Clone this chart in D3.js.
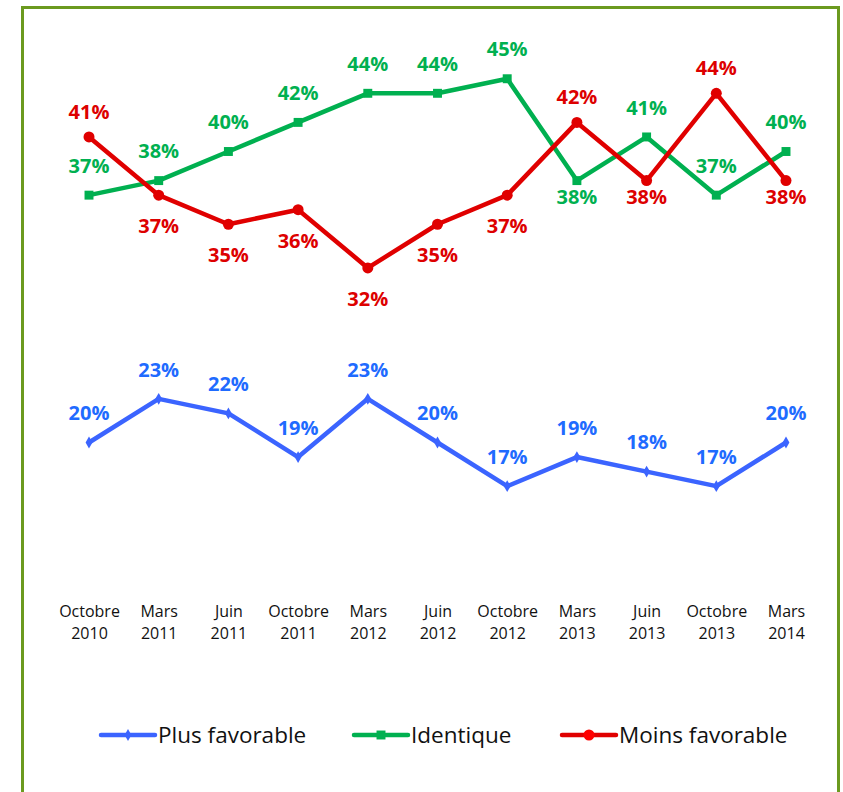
<!DOCTYPE html>
<html>
<head>
<meta charset="utf-8">
<script src="https://cdn.jsdelivr.net/npm/d3@7"></script>
<style>
  body { margin: 0; background: #fff; }
  svg { display: block; }
</style>
</head>
<body>
<div id="chart"></div>
<script>
const width = 843;
const height = 792;

// data
const periods = [
    ["Octobre", "2010"], ["Mars", "2011"], ["Juin", "2011"], ["Octobre", "2011"],
    ["Mars", "2012"], ["Juin", "2012"], ["Octobre", "2012"], ["Mars", "2013"],
    ["Juin", "2013"], ["Octobre", "2013"], ["Mars", "2014"]
];
const plusFavorable = [20, 23, 22, 19, 23, 20, 17, 19, 18, 17, 20];
const identique = [37, 38, 40, 42, 44, 44, 45, 38, 41, 37, 40];
const moinsFavorable = [41, 37, 35, 36, 32, 35, 37, 42, 38, 44, 38];

// where each data label sits: t = above, u = a bit less above, b = below, n = just below
const plusLabelPos = ["t", "t", "t", "t", "t", "t", "t", "t", "t", "t", "t"];
const identiqueLabelPos = ["t", "t", "t", "t", "t", "t", "t", "n", "t", "t", "t"];
const moinsLabelPos = ["u", "b", "b", "b", "b", "b", "b", "u", "n", "u", "n"];

const labelOffset = { t: -29.5, u: -25.5, b: 31, n: 16 };

const series = [
    { name: "Plus favorable", values: plusFavorable, pos: plusLabelPos, line: "#3b64ff", text: "#1f6bff", marker: "diamond" },
    { name: "Identique", values: identique, pos: identiqueLabelPos, line: "#00b050", text: "#00b050", marker: "square" },
    { name: "Moins favorable", values: moinsFavorable, pos: moinsLabelPos, line: "#e00000", text: "#dd0000", marker: "circle" }
];

const svg = d3.select("#chart")
    .append("svg")
    .attr("width", width)
    .attr("height", height);

// frame
svg.append("rect")
    .attr("x", 22.5)
    .attr("y", 7.5)
    .attr("width", 816)
    .attr("height", 800)
    .attr("fill", "#fff")
    .attr("stroke", "#6b9a1f")
    .attr("stroke-width", 3);

const x = d3.scalePoint()
    .domain(d3.range(periods.length))
    .range([89, 786]);

const y = d3.scaleLinear()
    .domain([10, 50])
    .range([588, 6]);

const line = d3.line()
    .x((d, i) => x(i))
    .y((d) => y(d));

const symbolFor = {
    diamond: d3.symbol().type(d3.symbolDiamond).size(40),
    square: d3.symbol().type(d3.symbolSquare).size(80),
    circle: d3.symbol().type(d3.symbolCircle).size(95)
};

// category axis, two-line labels, no line or ticks
const xAxis = svg.append("g")
    .attr("transform", `translate(0,${y(10)})`)
    .call(d3.axisBottom(x).tickSize(0).tickFormat(""));
xAxis.select(".domain").remove();
xAxis.selectAll(".tick").each(function (d) {
    const t = d3.select(this).append("text")
        .attr("fill", "#111")
        .attr("text-anchor", "middle")
        .style("font-family", "'Open Sans', sans-serif")
        .style("font-size", "16px");
    t.append("tspan").attr("x", 0).attr("y", 29).text(periods[d][0]);
    t.append("tspan").attr("x", 0).attr("y", 51).text(periods[d][1]);
});

series.forEach((s) => {
    const g = svg.append("g");
    g.append("path")
        .datum(s.values)
        .attr("fill", "none")
        .attr("stroke", s.line)
        .attr("stroke-width", 4.5)
        .attr("stroke-linejoin", "round")
        .attr("d", line);

    g.selectAll(".marker")
        .data(s.values)
        .join("path")
        .attr("class", "marker")
        .attr("transform", (d, i) => `translate(${x(i)},${y(d)})`)
        .attr("fill", s.line)
        .attr("d", symbolFor[s.marker]);

    g.selectAll(".label")
        .data(s.values)
        .join("text")
        .attr("class", "label")
        .attr("x", (d, i) => x(i))
        .attr("y", (d, i) => y(d) + labelOffset[s.pos[i]])
        .attr("dy", "0.36em")
        .attr("text-anchor", "middle")
        .attr("fill", s.text)
        .style("font-family", "'Open Sans', sans-serif")
        .style("font-weight", "bold")
        .style("font-size", "20px")
        .text((d) => d + "%");
});

// legend
const legendX = [101, 354, 562];
const legend = svg.append("g").attr("transform", "translate(0,735)");
series.forEach((s, i) => {
    const item = legend.append("g").attr("transform", `translate(${legendX[i]},0)`);
    item.append("line")
        .attr("x1", 0).attr("x2", 54)
        .attr("stroke", s.line)
        .attr("stroke-width", 4.5)
        .attr("stroke-linecap", "round");
    item.append("path")
        .attr("transform", "translate(27,0)")
        .attr("fill", s.marker === "circle" ? "#ff0000" : s.line)
        .attr("d", symbolFor[s.marker]);
    item.append("text")
        .attr("x", 57)
        .attr("dy", "0.35em")
        .attr("fill", "#111")
        .style("font-family", "'Open Sans', sans-serif")
        .style("font-size", "22.5px")
        .text(s.name);
});
</script>
</body>
</html>
